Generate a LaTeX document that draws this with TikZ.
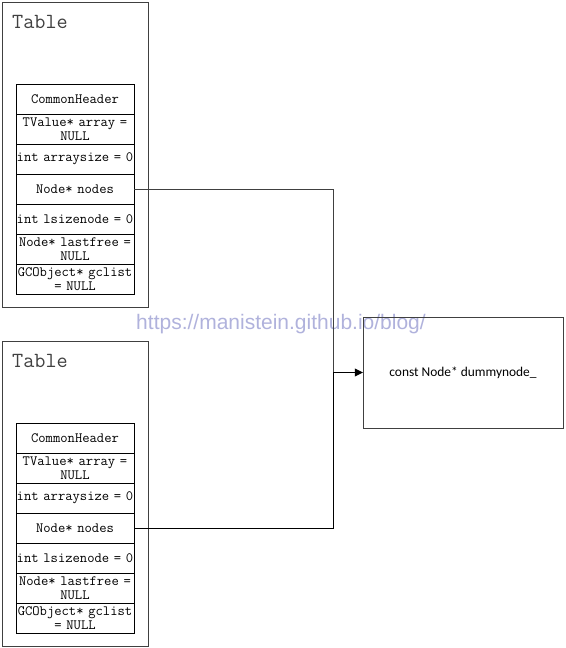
\documentclass[tikz,border=0pt]{standalone}
\usepackage{fontspec}
\usepackage{tikz}
\usetikzlibrary{positioning}
\usetikzlibrary{arrows.meta}
\newfontfamily\notefont{Carlito}
\newfontfamily\markfont{Liberation Sans}
\definecolor{boxgray}{RGB}{64,64,64}
\definecolor{markblue}{RGB}{176,178,220}
\begin{document}
\begin{tikzpicture}[x=1pt, y=1pt,
    tablebox/.style={rectangle, draw=boxgray, minimum width=146pt,
      minimum height=305pt, inner sep=0pt, outer sep=0pt},
    titletext/.style={anchor=west, inner sep=0pt,
      font=\ttfamily\fontsize{21.6}{23}\selectfont, text=boxgray},
    field/.style={rectangle, draw=black, minimum width=118pt,
      minimum height=30pt, text width=118pt, align=center, inner sep=0pt,
      outer sep=0pt, font=\ttfamily\fontsize{14.2}{14.5}\selectfont},
    targetbox/.style={rectangle, draw=boxgray, minimum width=200pt,
      minimum height=111pt, inner sep=0pt, font=\notefont\fontsize{13.4}{15}\selectfont}, ]
    \useasboundingbox (0,0) rectangle (565,-648);
    % Watermark
    \node[font=\markfont\fontsize{21}{23}\selectfont, text=markblue,
    inner sep=0pt] (mark) at (281,-324) {https://manistein.github.io/blog/};
    % Upper table
    \node[tablebox] (table1) at (75,-154.5) {}; \node[titletext]
    (title1) at (12,-22) {Table};
    \node[field] (header1) at (75,-99) {CommonHeader}; \node[field]
    (array1) [below=0pt of header1] {TValue* array =\\NULL};
    \node[field] (asize1) [below=0pt of array1] {int arraysize = 0};
    \node[field] (nodes1) [below=0pt of asize1] {Node* nodes};
    \node[field] (lsize1) [below=0pt of nodes1] {int lsizenode = 0};
    \node[field] (free1) [below=0pt of lsize1] {Node* lastfree =\\NULL};
    \node[field] (gc1) [below=0pt of free1] {GCObject* gclist\\= NULL};
    % Lower table
    \node[tablebox] (table2) at (75,-493.5) {}; \node[titletext]
    (title2) at (12,-361) {Table};
    \node[field] (header2) at (75,-438) {CommonHeader}; \node[field]
    (array2) [below=0pt of header2] {TValue* array =\\NULL};
    \node[field] (asize2) [below=0pt of array2] {int arraysize = 0};
    \node[field] (nodes2) [below=0pt of asize2] {Node* nodes};
    \node[field] (lsize2) [below=0pt of nodes2] {int lsizenode = 0};
    \node[field] (free2) [below=0pt of lsize2] {Node* lastfree =\\NULL};
    \node[field] (gc2) [below=0pt of free2] {GCObject* gclist\\= NULL};
    % Target
    \node[targetbox] (dummy) at (463,-372.5) {const Node* dummynode\_};
    \coordinate (join) at (333,-372.5);
    % Lines
    \draw[boxgray] (nodes1.east) -| (join); \draw
    (nodes2.east) -| (join); \draw[-{Triangle[length=8pt,width=8pt]}]
    (join) -- (dummy.west);
  \end{tikzpicture}
\end{document}
